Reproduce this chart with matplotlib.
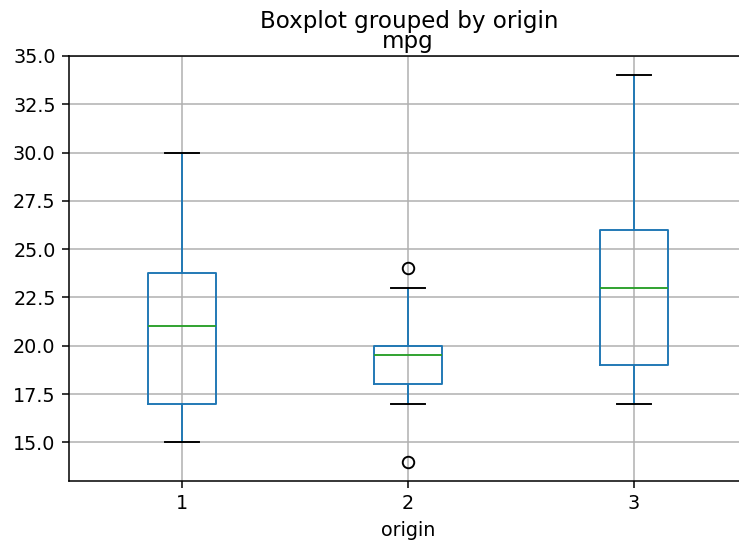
import matplotlib.pyplot as plt

# Box statistics
origins = ["1", "2", "3"]
whis_lo = [15.0, 17.0, 17.0]
q1 = [17.0, 18.0, 19.0]
medians = [21.0, 19.5, 23.0]
q3 = [23.75, 20.0, 26.0]
whis_hi = [30.0, 23.0, 34.0]
fliers = [[], [24.0, 14.0], []]

stats = []
for i, o in enumerate(origins):
    stats.append(dict(label=o, whislo=whis_lo[i], q1=q1[i], med=medians[i],
                      q3=q3[i], whishi=whis_hi[i], fliers=fliers[i]))

DPI = 138
fig = plt.figure(figsize=(739 / DPI, 544 / DPI), dpi=DPI)
ax = fig.add_axes([69 / 739, 1 - 481 / 544, 678 / 739, 425 / 544])

ax.bxp(stats,
       boxprops=dict(color='#1f77b4'),
       whiskerprops=dict(color='#1f77b4'),
       capprops=dict(color='black'),
       medianprops=dict(color='#2ca02c'),
       flierprops=dict(marker='o', markerfacecolor='none', markeredgecolor='black'))

ax.set_ylim(13.0, 35.0)
ax.set_yticks([15.0, 17.5, 20.0, 22.5, 25.0, 27.5, 30.0, 32.5, 35.0])
ax.grid(True)
ax.set_axisbelow(True)
ax.set_xlabel("origin")
ax.set_title("mpg", pad=4)
fig.text(409 / 739, 1 - 28 / 544, "Boxplot grouped by origin",
         ha='center', va='baseline', fontsize=12)

plt.savefig("out.png", dpi=DPI)
